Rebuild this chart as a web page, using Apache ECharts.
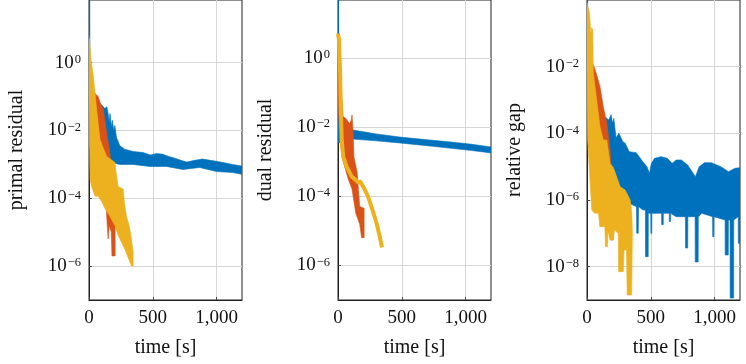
<!DOCTYPE html>
<html>
<head>
<meta charset="utf-8">
<script src="https://cdn.jsdelivr.net/npm/echarts@6.0.0/dist/echarts.min.js"></script>
<style>
  html, body { margin: 0; padding: 0; background: #fff; }
  #chart { width: 746px; height: 364px; }
</style>
</head>
<body>
<div id="chart"></div>
<script>
// all values are [time in s, log10 of the value]
const xTicks = [0, 500, 1000]
const panelNames = ['primal residual', 'dual residual', 'relative gap']
const yTicks = [[-6, -4, -2, 0], [-6, -4, -2, 0], [-8, -6, -4, -2]]
const yRanges = [[-7, 1.85], [-7, 1.67], [-9, 0]]

// primal residual: oscillating bands, kept as upper / lower envelopes
const primalBlueUp = [[0, 1.85], [6, 1.85], [8, -0.6], [20, -0.9], [60, -1.1], [100, -1.25], [125, -1.35],
  [140, -1.3], [150, -1.5], [158, -1.75], [165, -1.5], [175, -1.9], [182, -1.7], [195, -2.0], [203, -1.85],
  [215, -2.2], [242, -2.45], [280, -2.55], [346, -2.62], [424, -2.65], [480, -2.72], [530, -2.68], [580, -2.7],
  [620, -2.76], [660, -2.8], [720, -2.88], [766, -2.93], [830, -2.88], [890, -2.84], [950, -2.88], [1000, -2.91],
  [1060, -2.95], [1125, -3.0], [1200, -3.05]]
const primalBlueLow = [[0, -2.5], [20, -2.5], [60, -3.0], [120, -3.0], [164, -2.94], [242, -3.0], [346, -3.0],
  [477, -3.06], [607, -3.06], [737, -3.15], [867, -3.09], [1000, -3.21], [1125, -3.24], [1200, -3.29]]
const primalRedUp = [[0, 0.82], [3, 0.82], [5, -0.6], [20, -0.79], [45, -0.9], [72, -1.0], [90, -1.2],
  [112, -1.38], [125, -1.7], [138, -2.06], [164, -2.65], [180, -3.3], [195, -4.0], [205, -4.5]]
const primalRedLow = [[0, -1.3], [20, -2.0], [50, -2.8], [100, -3.2], [130, -4.0], [150, -5.2], [160, -4.8],
  [175, -5.0], [180, -5.7], [205, -5.7]]
const primalYellowUp = [[0, 0.73], [5, 0.68], [15, 0.1], [34, -0.4], [60, -1.38], [86, -2.26], [110, -2.5],
  [138, -2.76], [170, -2.85], [203, -2.94], [215, -3.3], [229, -3.65], [268, -3.73], [280, -4.2], [294, -4.53],
  [315, -4.8], [333, -5.2], [346, -5.6]]
const primalYellowLow = [[0, -1.0], [8, -3.44], [20, -3.65], [47, -3.94], [72, -3.94], [100, -4.1], [125, -4.3],
  [160, -4.5], [203, -4.8], [229, -5.1], [281, -5.5], [333, -6.0], [346, -6.0]]

// dual residual
const dualBlueUp = [[0, 1.67], [5, 1.67], [7, -1.9], [30, -2.0], [118, -2.09], [300, -2.2], [483, -2.29],
  [700, -2.37], [870, -2.43], [1050, -2.5], [1200, -2.58]]
const dualBlueLow = [[0, -2.45], [30, -2.45], [118, -2.35], [300, -2.4], [483, -2.46], [700, -2.54],
  [870, -2.61], [1050, -2.68], [1200, -2.75]]
const dualRedUp = [[0, 0.4], [3, 0.4], [8, -0.2], [20, -0.64], [40, -1.7], [60, -1.75], [90, -1.9], [105, -1.8],
  [110, -1.65], [118, -2.1], [125, -2.87], [150, -3.3], [170, -4.3], [205, -4.35]]
const dualRedLow = [[0, -1.3], [15, -2.4], [40, -3.0], [80, -3.5], [110, -3.8], [140, -4.5], [170, -4.8],
  [185, -5.2], [205, -5.2]]
const dualYellow = [[0, 0.7], [8, 0.52], [16, -0.35], [23, -1.59], [29, -2.37], [41, -2.86], [67, -3.14],
  [106, -3.43], [130, -3.5], [158, -3.6], [175, -3.58], [197, -3.72], [236, -4.01], [262, -4.3], [301, -4.76],
  [327, -5.16], [345, -5.48]]

// relative gap
const gapBlueUp = [[0, 0], [5, 0], [7, -3.2], [60, -3.3], [120, -3.5], [150, -3.53], [170, -3.6], [189, -3.44],
  [200, -3.7], [210, -3.55], [228, -4.13], [250, -4.0], [281, -4.25], [300, -4.3], [331, -4.55], [386, -4.58],
  [438, -4.85], [470, -5.0], [490, -5.2], [505, -4.9], [530, -4.75], [580, -4.7], [630, -4.75], [667, -4.9],
  [700, -4.8], [740, -4.8], [790, -4.95], [850, -5.3], [880, -5.0], [920, -4.88], [975, -4.88], [1050, -5.0],
  [1110, -5.15], [1160, -5.05], [1200, -5.03]]
const gapBlueLow = [[0, -3.0], [10, -4.2], [60, -4.5], [120, -5.0], [200, -5.8], [280, -6.0], [330, -6.1],
  [388, -6.2], [390, -7.0], [402, -7.0], [404, -6.2], [440, -6.3], [458, -6.3], [459, -7.7], [480, -7.7],
  [481, -6.4], [500, -6.4], [501, -7.0], [508, -7.0], [509, -6.4], [585, -6.4], [586, -6.74], [598, -6.74],
  [599, -6.4], [645, -6.4], [646, -6.65], [655, -6.65], [656, -6.4], [700, -6.5], [772, -6.5], [773, -7.44],
  [790, -7.44], [791, -6.5], [848, -6.5], [849, -7.86], [872, -7.86], [873, -6.5], [900, -6.4], [985, -6.5],
  [986, -7.1], [995, -7.1], [996, -6.5], [1083, -6.6], [1084, -7.65], [1108, -7.65], [1109, -6.6], [1122, -6.6],
  [1123, -8.94], [1150, -8.94], [1151, -6.6], [1186, -6.5], [1187, -7.3], [1200, -7.3]]
const gapRedUp = [[0, -0.5], [10, -1.0], [30, -1.9], [50, -1.94], [76, -2.24], [102, -2.6], [128, -3.2],
  [155, -3.68], [181, -4.5], [195, -5.5], [205, -6.5]]
const gapRedLow = [[0, -3.0], [50, -5.0], [100, -6.0], [150, -6.6], [185, -7.2], [205, -7.2]]
const gapYellowUp = [[0, -0.08], [20, -0.4], [30, -1.0], [37, -0.83], [45, -0.9], [50, -2.2], [76, -3.0],
  [102, -3.8], [128, -4.2], [155, -4.2], [181, -4.9], [207, -5.03], [260, -5.6], [299, -5.7], [339, -6.0],
  [352, -6.4], [356, -7.0]]
const gapYellowLow = [[0, -2.0], [5, -4.2], [37, -6.3], [60, -6.4], [90, -6.4], [100, -6.8], [140, -6.8],
  [145, -7.4], [160, -7.4], [165, -6.9], [180, -7.2], [207, -7.2], [215, -6.9], [245, -7.0], [248, -8.15],
  [285, -8.15], [290, -7.5], [310, -7.5], [315, -8.85], [350, -8.85], [356, -7.0]]

const BLUE = '#0072BD', RED = '#D95319', YELLOW = '#EDB120'
const FONT = '"Liberation Serif", "DejaVu Serif", serif'
const gridLefts = [89, 338, 587]
const gridWidth = 153

function band(idx, upper, lower, color) {
  const poly = upper.concat(lower.slice().reverse())
  return {
    type: 'custom', xAxisIndex: idx, yAxisIndex: idx, clip: true, silent: true,
    data: poly,
    renderItem: (params, api) => {
      if (params.dataIndex !== 0) return null
      return {
        type: 'polygon',
        shape: { points: poly.map(p => api.coord(p)) },
        style: { fill: color, stroke: color, lineWidth: 0.6 },
      }
    },
  }
}

const supText = v => '{b|10}{s|' + (v < 0 ? '\u2212' + (-v) : v) + '}'

const grids = gridLefts.map(left => ({
  left, top: 0, width: gridWidth, height: 300,
  show: true, borderColor: '#222', borderWidth: 1, backgroundColor: 'transparent',
}))

const xAxes = gridLefts.map((_, i) => ({
  type: 'value', gridIndex: i, min: 0, max: 1200,
  name: 'time [s]', nameLocation: 'middle', nameGap: 38,
  nameTextStyle: { fontFamily: FONT, fontSize: 20, color: '#111' },
  axisLine: { show: true, onZero: false, lineStyle: { color: '#222', width: 1 } },
  axisTick: { show: true, inside: true, length: 3, customValues: xTicks, lineStyle: { color: '#444' } },
  axisLabel: {
    customValues: xTicks, margin: 9, fontFamily: FONT, fontSize: 19, color: '#111',
    formatter: v => v >= 1000 ? Math.floor(v / 1000) + ',' + String(v % 1000).padStart(3, '0') : String(v),
  },
  splitLine: { show: true, lineStyle: { color: '#d6d6d6', width: 1 } },
}))

const yAxes = gridLefts.map((_, i) => ({
  type: 'value', gridIndex: i, min: yRanges[i][0], max: yRanges[i][1],
  name: panelNames[i], nameLocation: 'middle', nameGap: 62,
  nameTextStyle: { fontFamily: FONT, fontSize: 20, color: '#111' },
  axisLine: { show: true, onZero: false, lineStyle: { color: '#222', width: 1 } },
  axisTick: { show: true, inside: true, length: 3, customValues: yTicks[i], lineStyle: { color: '#444' } },
  axisLabel: {
    customValues: yTicks[i], margin: 8, color: '#111',
    formatter: supText,
    rich: {
      b: { fontFamily: FONT, fontSize: 19, color: '#111', lineHeight: 19, verticalAlign: 'bottom', padding: [3, 0, 0, 0] },
      s: { fontFamily: FONT, fontSize: 12.5, color: '#111', lineHeight: 13, verticalAlign: 'top', padding: [0, 0, 0, 1] },
    },
  },
  splitLine: { show: true, lineStyle: { color: '#d6d6d6', width: 1 } },
}))

const series = [
  band(0, primalBlueUp, primalBlueLow, BLUE),
  band(0, primalRedUp, primalRedLow, RED),
  band(0, primalYellowUp, primalYellowLow, YELLOW),
  band(1, dualBlueUp, dualBlueLow, BLUE),
  band(1, dualRedUp, dualRedLow, RED),
  {
    type: 'line', xAxisIndex: 1, yAxisIndex: 1, data: dualYellow, symbol: 'none',
    lineStyle: { color: YELLOW, width: 4, join: 'round' }, silent: true,
  },
  band(2, gapBlueUp, gapBlueLow, BLUE),
  band(2, gapRedUp, gapRedLow, RED),
  band(2, gapYellowUp, gapYellowLow, YELLOW),
]

const chart = echarts.init(document.getElementById('chart'), null, { renderer: 'canvas' })
chart.setOption({
  animation: false,
  backgroundColor: '#fff',
  grid: grids,
  xAxis: xAxes,
  yAxis: yAxes,
  series,
})
</script>
</body>
</html>
